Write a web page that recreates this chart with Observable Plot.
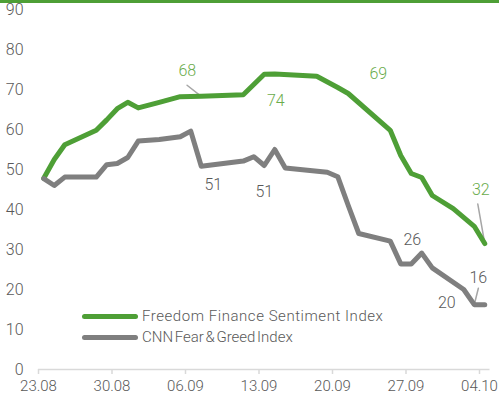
<!DOCTYPE html>
<html><head><meta charset="utf-8">
<script src="https://cdn.jsdelivr.net/npm/d3@7"></script>
<script src="https://cdn.jsdelivr.net/npm/@observablehq/plot@0.6"></script>
<style>
body{margin:0;background:#fff;}
#wrap{position:relative;width:499px;height:401px;overflow:hidden;font-family:Roboto,sans-serif;font-weight:300;}
#topbar{position:absolute;left:0;top:0;width:499px;height:3px;background:#4e9f36;}
.leg{position:absolute;left:82px;display:flex;align-items:center;font-size:15px;line-height:20px;color:#595959;white-space:nowrap;}
.sw{width:56px;height:5px;border-radius:3px;margin-right:4px;}
</style></head><body>
<div id="wrap"><div id="chart"></div><div id="topbar"></div><div id="legend"></div></div>
<script>
// ---- data ----
const seriesNames = ["Freedom Finance Sentiment Index", "CNN Fear & Greed Index"];
const greenDates = ["2021-08-23","2021-08-24","2021-08-25","2021-08-28","2021-08-29","2021-08-30","2021-08-31","2021-09-01","2021-09-03","2021-09-05","2021-09-07","2021-09-11","2021-09-13","2021-09-14","2021-09-18","2021-09-20","2021-09-21","2021-09-25","2021-09-26","2021-09-27","2021-09-28","2021-09-29","2021-10-01","2021-10-03","2021-10-04"];
const greenValues = [47.8,52.5,56.2,59.8,62.4,65.2,66.8,65.4,66.8,68.2,68.3,68.7,73.8,73.9,73.3,70.5,69,59.8,53.5,49,48,43.5,40.2,35.8,31.5];
const greyDates = ["2021-08-23","2021-08-24","2021-08-25","2021-08-28","2021-08-29","2021-08-30","2021-08-31","2021-09-01","2021-09-03","2021-09-05","2021-09-06","2021-09-07","2021-09-11","2021-09-12","2021-09-13","2021-09-14","2021-09-15","2021-09-19","2021-09-20","2021-09-21","2021-09-22","2021-09-25","2021-09-26","2021-09-27","2021-09-28","2021-09-29","2021-10-02","2021-10-03","2021-10-04"];
const greyValues = [47.7,46,48.1,48.1,51.2,51.5,53,57.1,57.5,58.2,59.6,50.8,52.1,53.2,51,55,50.4,49.3,48.2,41,34,32.1,26.4,26.4,29.1,25.4,20,16.2,16.2];
const xTickDates = ["2021-08-23","2021-08-30","2021-09-06","2021-09-13","2021-09-20","2021-09-27","2021-10-04"];
const yTickValues = [0,10,20,30,40,50,60,70,80,90];
const greenLabelDates = ["2021-09-07","2021-09-14","2021-09-21","2021-10-04"];
const greenLabelTexts = ["68","74","69","32"];
const greyLabelDates = ["2021-09-07","2021-09-13","2021-09-27","2021-10-02","2021-10-03"];
const greyLabelTexts = ["51","51","26","20","16"];

// ---- build ----
const HALF = 12 * 3600e3;
const noon = s => new Date(Date.parse(s) + HALF);
const green = greenDates.map((d, i) => ({date: noon(d), value: greenValues[i]}));
const grey = greyDates.map((d, i) => ({date: noon(d), value: greyValues[i]}));
const lookup = (series, s) => series.find(p => +p.date === +noon(s));
const greenLabels = greenLabelDates.map((d, i) => ({...lookup(green, d), text: greenLabelTexts[i]}));
const greyLabels = greyLabelDates.map((d, i) => ({...lookup(grey, d), text: greyLabelTexts[i]}));

const GREEN = "#4e9f36", GREY = "#7f7f7f";
const greenOffsets = [[-14,-25],[1,27],[30,-20],[-4,-54]];
const greyOffsets = [[12,19],[0,26],[1,-24],[-17,13],[4,-27]];
const spike = {draw(ctx, l) { ctx.moveTo(0, 0); ctx.lineTo(0, -l); }};

const labelMarks = (labels, offsets, fill) => labels.map((p, i) =>
  Plot.text([p], {x: "date", y: "value", text: "text", dx: offsets[i][0], dy: offsets[i][1], fill, fontSize: 16, fontWeight: 300}));

const chart = Plot.plot({
  width: 499, height: 401,
  marginLeft: 38, marginRight: 9.5, marginTop: 9, marginBottom: 32,
  style: {fontFamily: "Roboto, sans-serif", fontWeight: 300, fontSize: "16px", background: "white", overflow: "visible"},
  x: {type: "utc", domain: [new Date("2021-08-23"), new Date("2021-10-05")]},
  y: {domain: [0, 90]},
  marks: [
    Plot.ruleY([0], {stroke: "#d9d9d9", strokeWidth: 1.5}),
    Plot.axisX({ticks: xTickDates.map(s => new Date(s)), tickFormat: d3.utcFormat("%d.%m"), tickSize: 5, tickPadding: 6, stroke: "#d9d9d9", strokeWidth: 1.5, fill: "#595959", fontSize: 15, label: null}),
    Plot.axisY({ticks: yTickValues, tickSize: 0, tickPadding: 15, fill: "#595959", label: null}),
    Plot.vector([greenLabels[0]], {x: "date", y: "value", length: 18, rotate: -52, anchor: "start", shape: spike, stroke: "#a6a6a6", strokeWidth: 1.5}),
    Plot.vector([greenLabels[3]], {x: "date", y: "value", length: 40, rotate: -10, anchor: "start", shape: spike, stroke: "#a6a6a6", strokeWidth: 1.5}),
    Plot.vector([greyLabels[4]], {x: "date", y: "value", length: 17, rotate: 14, anchor: "start", shape: spike, stroke: "#a6a6a6", strokeWidth: 1.5}),
    Plot.line(green, {x: "date", y: "value", stroke: GREEN, strokeWidth: 5, strokeLinejoin: "round", strokeLinecap: "round"}),
    Plot.line(grey, {x: "date", y: "value", stroke: GREY, strokeWidth: 5, strokeLinejoin: "round", strokeLinecap: "round"}),
    ...labelMarks(greenLabels, greenOffsets, "#6aac4c"),
    ...labelMarks(greyLabels, greyOffsets, "#595959")
  ]
});
document.getElementById("chart").appendChild(chart);

const legend = document.getElementById("legend");
[[seriesNames[0], GREEN, 306, "0.55px", "0px"], [seriesNames[1], GREY, 327, "0px", "-2px"]].forEach(([name, color, top, ls, ws]) => {
  const row = document.createElement("div");
  row.className = "leg"; row.style.top = top + "px";
  const sw = document.createElement("div"); sw.className = "sw"; sw.style.background = color;
  const t = document.createElement("span"); t.textContent = name;
  t.style.letterSpacing = ls; t.style.wordSpacing = ws;
  row.appendChild(sw); row.appendChild(t); legend.appendChild(row);
});
</script>
</body></html>
